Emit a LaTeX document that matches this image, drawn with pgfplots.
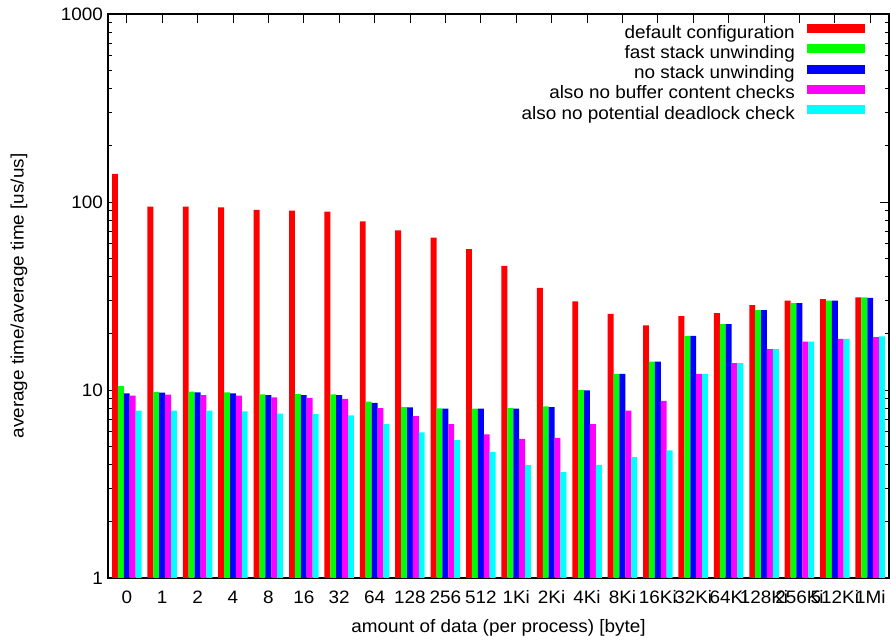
\documentclass[border=0pt]{standalone}
\usepackage{pgfplots}
\usepackage{pgfplotstable}
\pgfplotsset{compat=1.18}
\usepackage{fontspec}
\setmainfont[FakeStretch=1.05]{Liberation Sans}
\pgfplotstableread{
x r g b m c
0 141 10.5 9.6 9.33 7.76
1 94.4 9.76 9.67 9.44 7.76
2 94.4 9.8 9.7 9.4 7.76
3 93.7 9.7 9.6 9.33 7.7
4 90.7 9.49 9.4 9.14 7.48
5 89.9 9.5 9.4 9.07 7.45
6 88.8 9.49 9.4 8.96 7.33
7 78.9 8.66 8.53 8.02 6.59
8 70.7 8.12 8.09 7.27 5.96
9 64.6 7.99 7.95 6.59 5.42
10 56.2 7.95 7.95 5.81 4.68
11 45.7 8.02 7.95 5.49 3.98
12 34.9 8.19 8.12 5.57 3.66
13 29.6 10.0 9.96 6.59 4.0
14 25.4 12.2 12.2 7.76 4.40
15 22.1 14.15 14.15 8.74 4.78
16 24.7 19.4 19.4 12.17 12.17
17 25.6 22.4 22.4 13.9 13.9
18 28.3 26.6 26.6 16.5 16.5
19 29.9 29.0 29.0 18.07 18.1
20 30.4 29.9 29.9 18.7 18.7
21 31.1 31.1 30.9 19.1 19.3
}\datatable
\definecolor{gred}{RGB}{255,0,0}
\definecolor{ggreen}{RGB}{0,255,0}
\definecolor{gblue}{RGB}{0,0,255}
\definecolor{gmag}{RGB}{255,0,255}
\definecolor{gcyan}{RGB}{0,255,255}
\begin{document}
\fontsize{18bp}{21bp}\selectfont
\begin{tikzpicture}
\begin{axis}[name=ax, scale only axis, width=781bp, height=564bp,
  ymode=log, ymin=1, ymax=1000, xmin=-0.53, xmax=21.53,
  ybar, bar width=0.1667,
  xtick={0,...,21},
  xticklabels={0,1,2,4,8,16,32,64,128,256,512,1Ki,2Ki,4Ki,8Ki,16Ki,32Ki,64Ki,128Ki,256Ki,512Ki,1Mi},
  ytick={1,10,100,1000}, yticklabels={1,10,100,1000},
  minor ytick={2,3,4,5,6,7,8,9,20,30,40,50,60,70,80,90,200,300,400,500,600,700,800,900},
  minor x tick num=0,
  tick align=inside, tick pos=both,
  major tick length=9bp, minor tick length=4.5bp,
  every tick/.style={black, line width=0.9bp},
  axis line style={line width=1.2bp},
  xticklabel style={anchor=base, yshift=-25.5bp, inner sep=0pt},
  yticklabel style={anchor=east, xshift=-5bp, inner sep=0pt},
  xlabel={amount of data (per process) [byte]},
  ylabel={average time/average time [us/us]},
  every axis x label/.style={at={([yshift=-50bp]axis description cs:0.5,0)}, anchor=center},
  every axis y label/.style={at={([xshift=-89bp]axis description cs:0,0.5)}, anchor=center, rotate=90},
  legend plot pos=right, legend cell align=right,
  legend style={draw=none, fill=none, at={(1,1)}, anchor=north east, xshift=-24bp, yshift=-10bp,
    inner sep=0pt, row sep=2bp, column sep=12bp,
    nodes={inner sep=0pt, text height=13bp, text depth=4bp}},
  legend image code/.code={\fill[#1] (0bp,0.7bp) rectangle (58bp,9.7bp);},
]
\addplot[fill=gred, draw=none, bar shift=-0.3333] table[x=x, y=r] {\datatable};
\addlegendentry{default configuration}
\addplot[fill=ggreen, draw=none, bar shift=-0.1667] table[x=x, y=g] {\datatable};
\addlegendentry{fast stack unwinding}
\addplot[fill=gblue, draw=none, bar shift=0] table[x=x, y=b] {\datatable};
\addlegendentry{no stack unwinding}
\addplot[fill=gmag, draw=none, bar shift=0.1667] table[x=x, y=m] {\datatable};
\addlegendentry{also no buffer content checks}
\addplot[fill=gcyan, draw=none, bar shift=0.3333] table[x=x, y=c] {\datatable};
\addlegendentry{also no potential deadlock check}
\end{axis}
\pgfresetboundingbox
\path (ax.south west) ++(-108bp,-65bp) rectangle ++(891bp,643bp);
\end{tikzpicture}
\end{document}
